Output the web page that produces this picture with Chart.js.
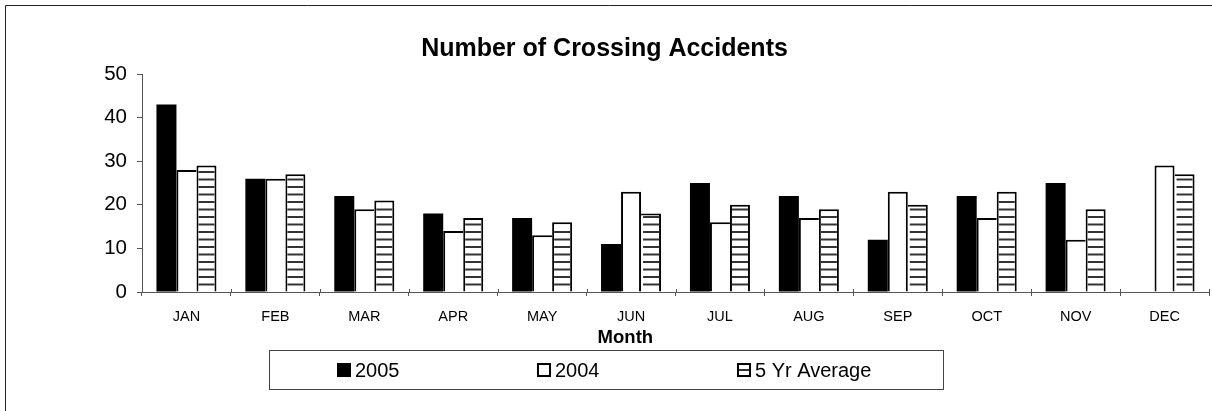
<!DOCTYPE html>
<html>
<head>
<meta charset="utf-8">
<script src="https://cdn.jsdelivr.net/npm/chart.js@4.4.1/dist/chart.umd.min.js"></script>
<style>
  html, body { margin: 0; padding: 0; background: #fff; }
  #wrap { width: 1212px; height: 411px; }
</style>
</head>
<body>
<div id="wrap"><canvas id="c" width="1212" height="411"></canvas></div>
<script>
const months = ['JAN','FEB','MAR','APR','MAY','JUN','JUL','AUG','SEP','OCT','NOV','DEC'];
const s2005 = [43, 26, 22, 18, 17, 11, 25, 22, 12, 22, 25, null];
const s2004 = [28, 26, 19, 14, 13, 23, 16, 17, 23, 17, 12, 29];
const s5yr  = [29, 27, 21, 17, 16, 18, 20, 19, 20, 23, 19, 27];
const seriesNames = ['2005', '2004', '5 Yr Average'];
const chartTitle = 'Number of Crossing Accidents';
const xTitle = 'Month';

const FONT = "'Liberation Sans', Arial, sans-serif";
Chart.defaults.font.family = FONT;
Chart.defaults.color = '#000';

const AXIS = '#555';
const HATCH_GAP = 7.5;

function drawHatch(ctx, left, right, top, bottom) {
  ctx.strokeStyle = '#333';
  ctx.lineWidth = 2;
  for (let yy = bottom - HATCH_GAP; yy > top + 2; yy -= HATCH_GAP) {
    ctx.beginPath();
    ctx.moveTo(left, yy);
    ctx.lineTo(right, yy);
    ctx.stroke();
  }
}

const extras = {
  id: 'extras',
  afterDatasetsDraw(chart) {
    const ctx = chart.ctx;
    const base = chart.scales.y.getPixelForValue(0);
    const meta = chart.getDatasetMeta(2);
    ctx.save();
    meta.data.forEach(bar => {
      const p = bar.getProps(['x', 'y', 'width'], true);
      const left = p.x - p.width / 2 + 2;
      const right = p.x + p.width / 2 - 2;
      drawHatch(ctx, left, right, p.y + 1, base);
    });
    ctx.restore();
  },
  afterDraw(chart) {
    const ctx = chart.ctx;
    const xs = chart.scales.x;
    const ys = chart.scales.y;
    const base = ys.getPixelForValue(0);
    ctx.save();
    // outer frame (left & top edges visible)
    ctx.strokeStyle = '#222';
    ctx.lineWidth = 1;
    ctx.beginPath();
    ctx.moveTo(5.5, 420);
    ctx.lineTo(5.5, 5.5);
    ctx.lineTo(1220, 5.5);
    ctx.stroke();
    // inner part of crossing x tick marks
    const step = xs.getPixelForValue(1) - xs.getPixelForValue(0);
    ctx.strokeStyle = AXIS;
    for (let i = 0; i <= months.length; i++) {
      const px = Math.round(xs.getPixelForValue(0) + (i - 0.5) * step) + 0.5;
      ctx.beginPath();
      ctx.moveTo(px, base - 3);
      ctx.lineTo(px, base);
      ctx.stroke();
    }
    // x axis title
    ctx.fillStyle = '#000';
    ctx.font = 'bold 18.5px ' + FONT;
    ctx.textAlign = 'center';
    ctx.textBaseline = 'middle';
    const ca = chart.chartArea;
    ctx.fillText(xTitle, ca.left + 0.453 * (ca.right - ca.left), 338);
    // legend
    const bx = 269.5, by = 350.5, bw = 674, bh = 39;
    ctx.strokeStyle = '#444';
    ctx.lineWidth = 1;
    ctx.strokeRect(bx, by, bw, bh);
    ctx.font = '20px ' + FONT;
    ctx.textAlign = 'left';
    ctx.textBaseline = 'middle';
    const cy = by + bh / 2;
    seriesNames.forEach((name, i) => {
      const sx = bx + 67.5 + i * 200;
      const sy = cy - 7;
      if (i === 0) {
        ctx.fillStyle = '#000';
        ctx.fillRect(sx, sy, 14, 14);
      } else {
        ctx.fillStyle = '#fff';
        ctx.fillRect(sx, sy, 14, 14);
        if (i === 2) {
          ctx.strokeStyle = '#333';
          ctx.lineWidth = 2;
          ctx.beginPath();
          ctx.moveTo(sx, sy + 7);
          ctx.lineTo(sx + 14, sy + 7);
          ctx.stroke();
        }
        ctx.strokeStyle = '#000';
        ctx.lineWidth = 2;
        ctx.strokeRect(sx + 1, sy + 1, 12, 12);
      }
      ctx.fillStyle = '#000';
      ctx.fillText(name, sx + 18, cy + 1);
    });
    ctx.restore();
  }
};

new Chart(document.getElementById('c'), {
  type: 'bar',
  data: {
    labels: months,
    datasets: [
      {
        label: seriesNames[0],
        data: s2005,
        backgroundColor: '#000',
        borderWidth: 0,
        categoryPercentage: 0.675,
        barPercentage: 1.0
      },
      {
        label: seriesNames[1],
        data: s2004,
        backgroundColor: '#fff',
        borderColor: '#000',
        borderSkipped: false,
        borderWidth: (c) => {
          const i = c.dataIndex;
          return { top: 2, left: 2, bottom: 0, right: (s2004[i] > s5yr[i]) ? 2 : 0 };
        },
        categoryPercentage: 0.675,
        barPercentage: 1.0
      },
      {
        label: seriesNames[2],
        data: s5yr,
        backgroundColor: '#fff',
        borderColor: '#000',
        borderSkipped: false,
        borderWidth: (c) => {
          const i = c.dataIndex;
          return { top: 2, right: 2, bottom: 0, left: (s5yr[i] >= s2004[i]) ? 2 : 0 };
        },
        categoryPercentage: 0.675,
        barPercentage: 1.0
      }
    ]
  },
  options: {
    responsive: false,
    animation: false,
    events: [],
    layout: { padding: { left: 0, right: 3, top: 0, bottom: 79 } },
    plugins: {
      legend: { display: false },
      tooltip: { enabled: false },
      title: {
        display: true,
        text: chartTitle,
        color: '#000',
        font: { size: 25, weight: 'bold', family: FONT },
        padding: { top: 34, bottom: 10 }
      }
    },
    scales: {
      x: {
        grid: { offset: true, drawOnChartArea: false, tickLength: 4, color: AXIS },
        border: { color: AXIS },
        ticks: { color: '#000', font: { size: 14.5 }, padding: 12, maxRotation: 0, autoSkip: false },
        afterFit: (s) => { s.height = 40; }
      },
      y: {
        min: 0,
        max: 50,
        grid: { drawOnChartArea: false, tickLength: 5, color: AXIS },
        border: { color: AXIS },
        ticks: { stepSize: 10, color: '#000', font: { size: 20.5 }, padding: 10 },
        afterFit: (s) => { s.width = 142; }
      }
    }
  },
  plugins: [extras]
});
</script>
</body>
</html>
